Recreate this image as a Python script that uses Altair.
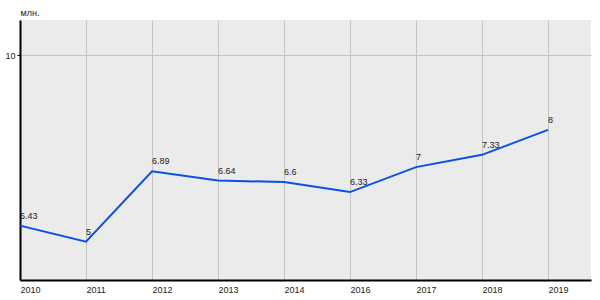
import altair as alt
import pandas as pd

years = ["2010", "2011", "2012", "2013", "2014", "2016", "2017", "2018", "2019"]
values = [5.43, 5, 6.89, 6.64, 6.6, 6.33, 7, 7.33, 8]

df = pd.DataFrame({"idx": list(range(len(years))), "year": years, "value": values})

label_expr = "[" + ",".join(f"'{y}'" for y in years) + "][datum.value]"

FONT = "Liberation Sans"

x = alt.X(
    "idx:Q",
    scale=alt.Scale(domain=[0, 8.652], nice=False, zero=False),
    axis=alt.Axis(
        values=list(range(len(years))),
        labelExpr=label_expr,
        title=None,
        ticks=False,
        labelAlign="left",
        labelPadding=5,
        labelFont=FONT,
        labelFontSize=9,
        labelColor="#222222",
        grid=True,
        gridColor="#c4c4c4",
        gridWidth=1,
        domainColor="#000000",
        domainWidth=2,
        labelFlush=False,
        labelOverlap=False,
    ),
)
y = alt.Y(
    "value:Q",
    scale=alt.Scale(domain=[3.97, 10.95], nice=False, zero=False),
    axis=alt.Axis(
        values=[10],
        title="млн.",
        titleAngle=0,
        titleAlign="left",
        titleBaseline="alphabetic",
        titleX=0,
        titleY=-5,
        titleFont=FONT,
        titleFontSize=9,
        titleFontWeight="normal",
        titleColor="#222222",
        tickSize=3,
        tickColor="#000000",
        labelPadding=2,
        labelFont=FONT,
        labelFontSize=9,
        labelColor="#222222",
        grid=True,
        gridColor="#c4c4c4",
        gridWidth=1,
        domainColor="#000000",
        domainWidth=2,
    ),
)

line = alt.Chart(df).mark_line(color="#0a4fe6", strokeWidth=2).encode(x=x, y=y)
text = alt.Chart(df).mark_text(
    align="left", baseline="alphabetic", dy=-7, font=FONT, fontSize=9, color="#222222"
).encode(x="idx:Q", y="value:Q", text=alt.Text("value:Q", format=".3~g"))

chart = (
    alt.layer(line, text)
    .properties(
        width=571,
        height=260,
        padding={"left": 20, "top": 20, "right": 9, "bottom": 20},
        autosize=alt.AutoSizeParams(type="none"),
        background="#ffffff",
    )
    .configure_view(fill="#ebebeb", stroke=None)
)

chart.save("out.html", embed_options={"renderer": "svg", "actions": False})
